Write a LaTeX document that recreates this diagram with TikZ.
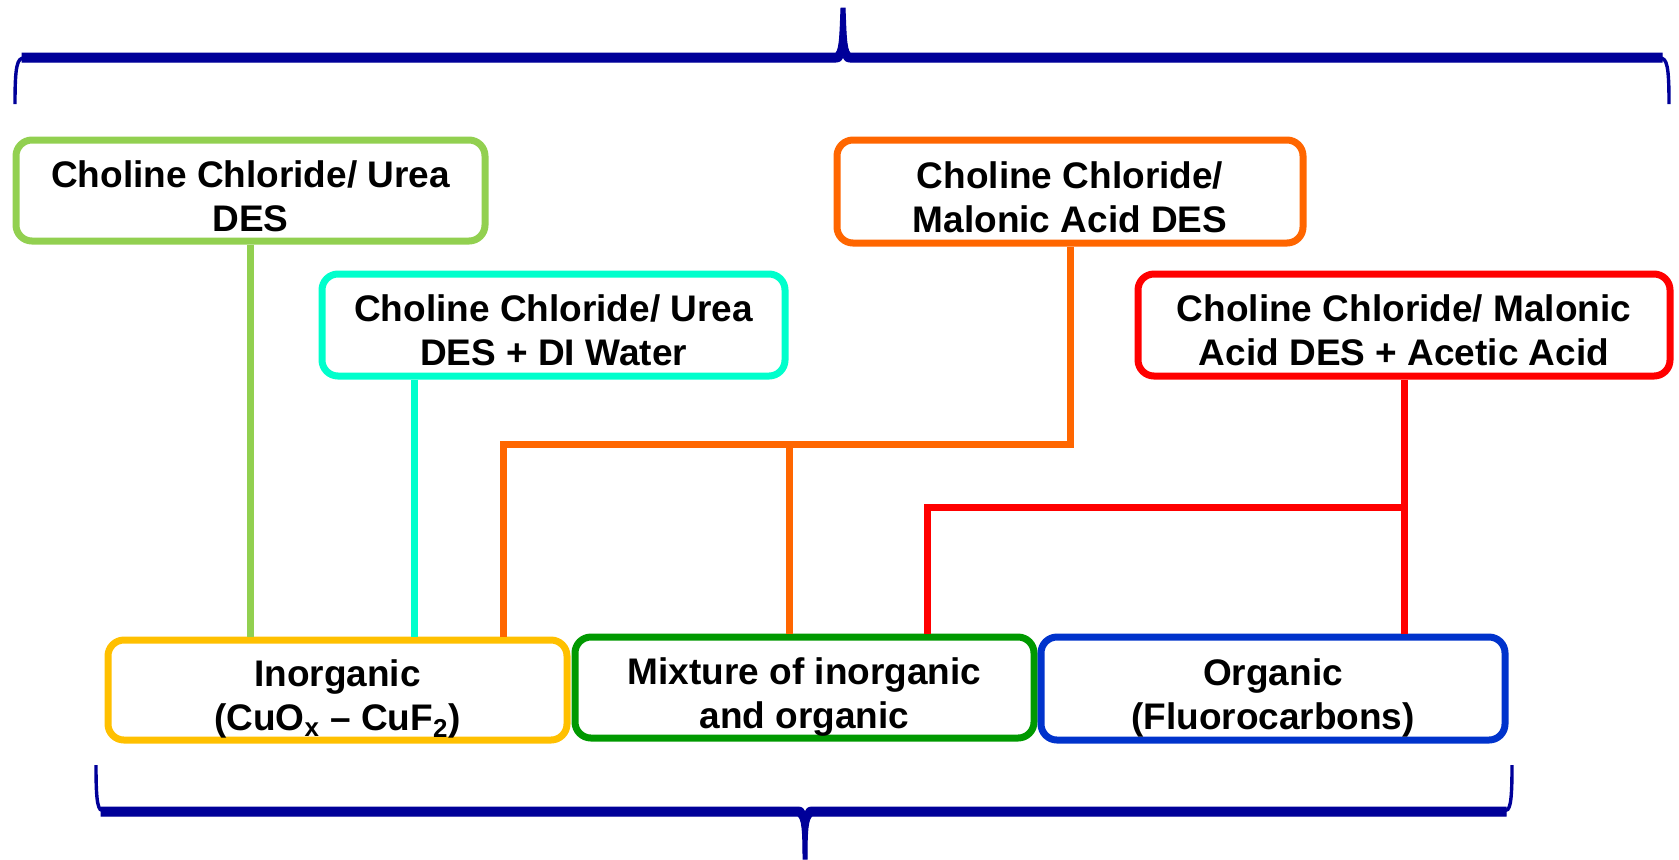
\documentclass[tikz,border=0pt]{standalone}
\usepackage{fontspec}
\setmainfont{Liberation Sans}
\newcommand{\boxtext}[1]{\raisebox{-5pt}[\height][\depth]{\begin{tabular}{@{}c@{}}#1\end{tabular}}}
\begin{document}
\begin{tikzpicture}[x=0.5pt,y=-0.5pt,
  every node/.style={font=\fontsize{18.5}{22}\selectfont\bfseries, align=center, inner sep=0pt},
  boxst/.style={draw, line width=3.5pt, rounded corners=8pt, fill=white},
  conn/.style={line width=3.5pt},
  bracest/.style={fill=braceblue, draw=braceblue, line width=0.5pt},
  braceend/.style={draw=braceblue, line width=1.7pt}]
\definecolor{lgreen}{HTML}{92D050}
\definecolor{cyanc}{HTML}{00FFCC}
\definecolor{orangec}{HTML}{FF6600}
\definecolor{redc}{HTML}{FF0000}
\definecolor{yellowc}{HTML}{FFC000}
\definecolor{dgreen}{HTML}{009900}
\definecolor{bluec}{HTML}{0033CC}
\definecolor{braceblue}{HTML}{000099}
\useasboundingbox (0,0) rectangle (1679,859);

% top brace
\fill[bracest] (22,53) -- (836,53) .. controls (840,49) and (840,30) .. (841,8) -- (845,8) .. controls (846,30) and (846,49) .. (850,53) -- (1662,53) -- (1662,62) -- (850,62) .. controls (846,62) and (844,60) .. (843,56) .. controls (842,60) and (840,62) .. (836,62) -- (22,62) -- cycle;
\draw[braceend] (24,58) .. controls (17,58) and (15,66) .. (15,104);
\draw[braceend] (1660,58) .. controls (1667,58) and (1669,66) .. (1669,104);

% bottom brace
\fill[bracest] (101,807) -- (798,807) .. controls (802,807) and (804,809) .. (805,812) .. controls (806,809) and (808,807) .. (812,807) -- (1506,807) -- (1506,816) -- (812,816) .. controls (808,819) and (807,830) .. (807,859) -- (803,859) .. controls (803,830) and (802,819) .. (798,816) -- (101,816) -- cycle;
\draw[braceend] (104,811) .. controls (98,811) and (96,805) .. (96,765);
\draw[braceend] (1504,811) .. controls (1510,811) and (1512,805) .. (1512,765);

% connector junction points
\coordinate (j1) at (503,444);
\coordinate (j2) at (789,444);
\coordinate (j3) at (1404,507);
\coordinate (j4) at (927,507);

% boxes
\node[boxst, draw=lgreen, minimum width=234.5pt, minimum height=50.5pt] (b1) at (250.5,190.5) {\boxtext{Choline Chloride/ Urea\\DES}};
\node[boxst, draw=cyanc, minimum width=231.5pt, minimum height=51pt] (b2) at (553.5,325) {\boxtext{Choline Chloride/ Urea\\DES + DI Water}};
\node[boxst, draw=orangec, minimum width=233pt, minimum height=51.5pt] (b3) at (1070,191.5) {\boxtext{Choline Chloride/\\Malonic Acid DES}};
\node[boxst, draw=redc, minimum width=266pt, minimum height=51pt] (b4) at (1404,325) {\boxtext{Choline Chloride/ Malonic\\Acid DES + Acetic Acid}};
\node[boxst, draw=yellowc, minimum width=229.5pt, minimum height=50pt] (inorg) at (337.5,690) {\boxtext{Inorganic\\(CuO\textsubscript{x} -- CuF\textsubscript{2})}};
\node[boxst, draw=dgreen, minimum width=229.5pt, minimum height=50.5pt] (mix) at (804.5,687.5) {\boxtext{Mixture of inorganic\\and organic}};
\node[boxst, draw=bluec, minimum width=232pt, minimum height=51.5pt] (org) at (1273,688.5) {\boxtext{Organic\\(Fluorocarbons)}};

% connectors
\draw[conn, lgreen] (b1.south) -- (b1.south |- inorg.north);
\draw[conn, cyanc] ([xshift=-69.5pt]b2.south) -- ([xshift=-69.5pt]b2.south |- inorg.north);
\draw[conn, orangec] (b3.south) |- (j1) -- (j1 |- inorg.north);
\draw[conn, orangec] (j2) -- (j2 |- mix.north);
\draw[conn, redc] (b4.south) -- (b4.south |- org.north);
\draw[conn, redc] (j3) -- (j4) -- (j4 |- mix.north);
\end{tikzpicture}
\end{document}
